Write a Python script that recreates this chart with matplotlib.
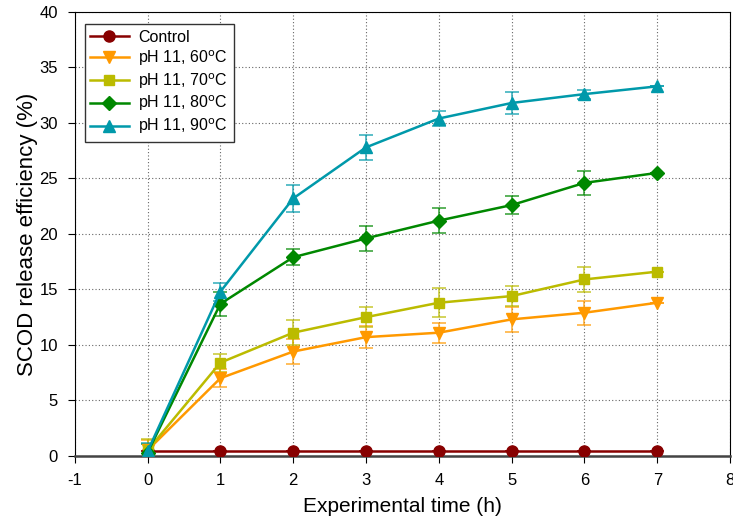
import matplotlib
matplotlib.use("Agg")
import matplotlib.pyplot as plt
from matplotlib.colors import to_rgba

plt.rcParams['font.family'] = ['Liberation Sans', 'DejaVu Sans']
plt.rcParams['axes.unicode_minus'] = False

time_h = [0, 1, 2, 3, 4, 5, 6, 7]
labels = ["Control", "pH 11, 60$^{\\mathrm{o}}$C", "pH 11, 70$^{\\mathrm{o}}$C",
          "pH 11, 80$^{\\mathrm{o}}$C", "pH 11, 90$^{\\mathrm{o}}$C"]

control = [0.4, 0.4, 0.4, 0.4, 0.4, 0.4, 0.4, 0.4]
ph60 = [0.5, 7.0, 9.4, 10.7, 11.1, 12.3, 12.9, 13.8]
ph70 = [0.5, 8.4, 11.1, 12.5, 13.8, 14.4, 15.9, 16.6]
ph80 = [0.3, 13.7, 17.9, 19.6, 21.2, 22.6, 24.6, 25.5]
ph90 = [0.4, 14.8, 23.2, 27.8, 30.4, 31.8, 32.6, 33.3]

err_control = [0, 0, 0, 0, 0, 0, 0, 0]
err60 = [0.9, 0.8, 1.1, 1.0, 0.9, 1.1, 1.1, 0]
err70 = [1.0, 0.8, 1.1, 0.9, 1.3, 0.9, 1.1, 0]
err80 = [0.8, 1.1, 0.7, 1.1, 1.1, 0.8, 1.1, 0]
err90 = [0.8, 0.8, 1.2, 1.1, 0.7, 1.0, 0.4, 0]

series = [control, ph60, ph70, ph80, ph90]
errors = [err_control, err60, err70, err80, err90]
colors = ["#880000", "#FF9900", "#BBBB00", "#008800", "#0099AA"]
markers = ["o", "v", "s", "D", "^"]
msizes = [8, 8, 7.5, 7, 8]

fig = plt.figure(figsize=(7.33, 5.21), dpi=100)
ax = fig.add_axes([0.102, 0.125, 0.894, 0.852])

for y, e, c, m, ms, lab in zip(series, errors, colors, markers, msizes, labels):
    # error bars first (lighter), then the line with markers
    ax.errorbar(time_h, y, yerr=e, fmt="none", ecolor=to_rgba(c, 0.75),
                capsize=5, elinewidth=1.2, capthick=1.2, zorder=2)
    ax.plot(time_h, y, color=c, marker=m, markersize=ms, linewidth=1.8,
            label=lab, zorder=3)

ax.set_xlim(-1, 8)
ax.set_ylim(0, 40)
ax.set_xticks(range(-1, 9))
ax.set_yticks(range(0, 41, 5))
ax.grid(True, linestyle=(0, (1, 2)), color="#666666", linewidth=0.8)
ax.set_axisbelow(True)
ax.tick_params(direction="out", labelsize=12, length=5, pad=7)
ax.spines['bottom'].set_linewidth(1.8)
ax.spines['bottom'].set_color("#444444")
ax.set_xlabel("Experimental time (h)", fontsize=15, labelpad=7)
ax.set_ylabel("SCOD release efficiency (%)", fontsize=16, labelpad=1)

leg = ax.legend(loc="upper left", fontsize=11.5, fancybox=False, framealpha=1,
                edgecolor="#333333", handlelength=2.4, borderpad=0.35,
                labelspacing=0.2, handletextpad=0.6,
                bbox_to_anchor=(0.003, 0.99))
leg.get_frame().set_linewidth(1.0)

fig.savefig("out.png", dpi=100)
